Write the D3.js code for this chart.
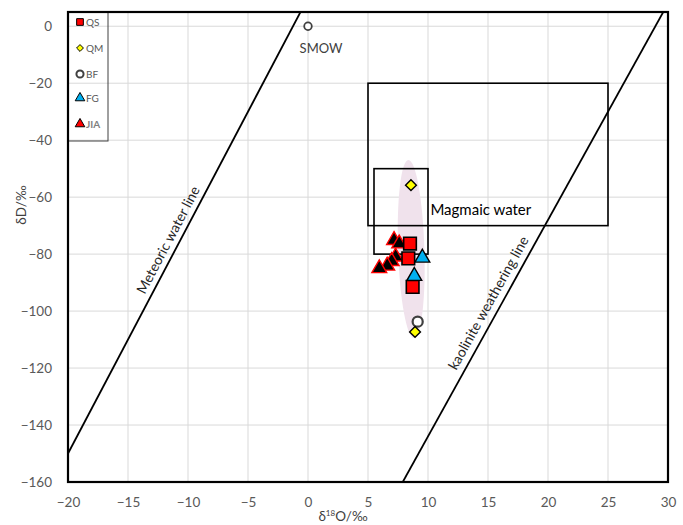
<!DOCTYPE html>
<html>
<head>
<meta charset="utf-8">
<script src="https://cdn.jsdelivr.net/npm/d3@7"></script>
<style>
  body { margin: 0; background: #fff; }
  svg { display: block; font-family: Lato, "Open Sans", sans-serif; }
</style>
</head>
<body>
<svg id="chart" width="683" height="525"></svg>
<script>
// Tick values
const xTicks = [-20, -15, -10, -5, 0, 5, 10, 15, 20, 25, 30];
const yTicks = [0, -20, -40, -60, -80, -100, -120, -140, -160];

// Sample groups: [δ18O, δD]
const qsPoints  = [[8.5, -76.3], [8.36, -81.5], [8.72, -91.5]];
const qmPoints  = [[8.58, -55.8], [8.92, -107.3]];
const bfPoints  = [[9.14, -103.7]];
const fgPoints  = [[9.53, -81.3], [8.86, -87.7]];
const jiaPoints = [[7.17, -75.1], [7.6, -76.3], [7.3, -80.9], [6.97, -82.5], [6.6, -84.1], [5.94, -85.0]];
const smowPoint = [[0, 0]];

// Reference fields: [x0, x1, y0, y1]
const magmaticBoxes = [[5, 25, -20, -70], [5.5, 10, -50, -80]];
// Reference lines: δD = slope * δ18O + intercept
const meteoricLine  = { slope: 8, intercept: 10 };
const kaoliniteLine = { slope: 7.6, intercept: -220 };

const svg = d3.select("#chart");
const pL = 68, pR = 668, pT = 12, pB = 482;
const x = d3.scaleLinear().domain([-20, 30]).range([pL, pR]);
const y = d3.scaleLinear().domain([-160, 5]).range([pB, pT]);

const defs = svg.append("defs");
defs.append("clipPath").attr("id", "plotClip")
  .append("rect").attr("x", pL).attr("y", pT).attr("width", pR - pL).attr("height", pB - pT);

// Gridlines
const grid = svg.append("g");
grid.selectAll(".vg").data(xTicks.slice(1, -1)).join("line")
  .attr("x1", d => x(d)).attr("x2", d => x(d)).attr("y1", pT).attr("y2", pB)
  .attr("stroke", "#d9d9d9").attr("stroke-width", 1);
grid.selectAll(".hg").data(yTicks.slice(0, -1)).join("line")
  .attr("x1", pL).attr("x2", pR).attr("y1", d => y(d)).attr("y2", d => y(d))
  .attr("stroke", "#d9d9d9").attr("stroke-width", 1);

// Axes (labels only)
const xAxis = svg.append("g").attr("transform", `translate(0,${pB})`)
  .call(d3.axisBottom(x).tickValues(xTicks).tickSize(0).tickPadding(15));
const yAxis = svg.append("g").attr("transform", `translate(${pL},0)`)
  .call(d3.axisLeft(y).tickValues(yTicks).tickSize(0).tickPadding(16));
[xAxis, yAxis].forEach(a => {
  a.select(".domain").remove();
  a.selectAll("text").attr("fill", "#595959").style("font-size", "13.5px").style("font-family", "Lato, 'Open Sans', sans-serif");
});

const plot = svg.append("g").attr("clip-path", "url(#plotClip)");

// Shaded field around the samples
const ec = [8.6, -78.2];
plot.append("ellipse")
  .attr("cx", x(ec[0])).attr("cy", y(ec[1]))
  .attr("rx", x(ec[0] + 1.1) - x(ec[0]))
  .attr("ry", y(ec[1] - 31.3) - y(ec[1]))
  .attr("transform", `rotate(-1.8,${x(ec[0])},${y(ec[1])})`)
  .attr("fill", "#f0e2ec");

// Magmatic water boxes
plot.selectAll(".mbox").data(magmaticBoxes).join("rect")
  .attr("x", d => x(d[0])).attr("y", d => y(d[2]))
  .attr("width", d => x(d[1]) - x(d[0])).attr("height", d => y(d[3]) - y(d[2]))
  .attr("fill", "none").attr("stroke", "#000").attr("stroke-width", 1.6);

// Water lines
[meteoricLine, kaoliniteLine].forEach(l => {
  plot.append("line")
    .attr("x1", x(-20)).attr("y1", y(l.slope * -20 + l.intercept))
    .attr("x2", x(30)).attr("y2", y(l.slope * 30 + l.intercept))
    .attr("stroke", "#000").attr("stroke-width", 1.8);
});

function lineAngle(l) {
  const dx = x(1) - x(0), dy = y(l.slope) - y(0);
  return Math.atan2(dy, dx) * 180 / Math.PI;
}
function lineLabel(text, l, xv, offset) {
  const px = x(xv), py = y(l.slope * xv + l.intercept);
  const ang = lineAngle(l);
  svg.append("text")
    .attr("transform", `translate(${px},${py}) rotate(${ang}) translate(0,${-offset})`)
    .attr("text-anchor", "middle").attr("fill", "#262626")
    .style("font-size", "14px").text(text);
}
lineLabel("Meteoric water line", meteoricLine, -10.85, 6);
lineLabel("kaolinite weathering line", kaoliniteLine, 15.9, 7);

svg.append("text").attr("x", x(10.2)).attr("y", y(-66.3))
  .attr("fill", "#000").style("font-size", "15px").text("Magmaic water");

svg.append("text").attr("x", x(-0.7)).attr("y", y(-9.4))
  .attr("fill", "#404040").style("font-size", "13px").text("SMOW");

// Marker shapes
const sym = {
  square: d3.symbol().type(d3.symbolSquare).size(160),
  diamond: d3.symbol().type(d3.symbolDiamond2).size(75),
  circle: d3.symbol().type(d3.symbolCircle).size(80),
  triangle: d3.symbol().type(d3.symbolTriangle).size(95),
  smallSquare: d3.symbol().type(d3.symbolSquare).size(45),
  smallDiamond: d3.symbol().type(d3.symbolDiamond2).size(30),
  smallCircle: d3.symbol().type(d3.symbolCircle).size(40),
  smallTriangle: d3.symbol().type(d3.symbolTriangle).size(40)
};

const series = [
  { name: "QS",  data: qsPoints,  shape: "square",   fill: "#ff0000", stroke: "#000",    sw: 1.6, legend: "smallSquare" },
  { name: "QM",  data: qmPoints,  shape: "diamond",  fill: "#ffff00", stroke: "#000",    sw: 1.4, legend: "smallDiamond" },
  { name: "BF",  data: bfPoints,  shape: "circle",   fill: "#ffffff", stroke: "#404040", sw: 2.2, legend: "smallCircle" },
  { name: "FG",  data: fgPoints,  shape: "triangle", fill: "#00b0f0", stroke: "#000",    sw: 1.4, legend: "smallTriangle" },
  { name: "JIA", data: jiaPoints, shape: "triangle", fill: "#000000", stroke: "#ff0000", sw: 1.4, legend: "smallTriangle" }
];

// SMOW point
plot.selectAll(".smow").data(smowPoint).join("path")
  .attr("d", d3.symbol().type(d3.symbolCircle).size(45)())
  .attr("transform", d => `translate(${x(d[0])},${y(d[1])})`)
  .attr("fill", "#fff").attr("stroke", "#404040").attr("stroke-width", 1.8);

const drawOrder = ["BF", "QM", "JIA", "QS", "FG"];
drawOrder.forEach(n => {
  const s = series.find(d => d.name === n);
  plot.selectAll(null).data(s.data).join("path")
    .attr("d", sym[s.shape]())
    .attr("transform", d => `translate(${x(d[0])},${y(d[1])})`)
    .attr("fill", s.fill).attr("stroke", s.stroke).attr("stroke-width", s.sw);
});

// Legend
const lg = svg.append("g");
lg.append("rect").attr("x", pL).attr("y", pT).attr("width", 40).attr("height", 129)
  .attr("fill", "none").attr("stroke", "#404040").attr("stroke-width", 1);
const legendY = [22, 48, 74, 98, 124];
series.forEach((s, i) => {
  lg.append("path").attr("d", sym[s.legend]())
    .attr("transform", `translate(80,${legendY[i]})`)
    .attr("fill", s.name === "JIA" ? "#ff0000" : s.fill)
    .attr("stroke", s.name === "JIA" ? "#000" : s.stroke)
    .attr("stroke-width", s.name === "BF" ? 2 : 1);
  lg.append("text").attr("x", 86).attr("y", legendY[i] + 3.5)
    .attr("fill", s.name === "JIA" ? "#7f7f7f" : "#595959")
    .style("font-size", "10px").style("font-weight", s.name === "JIA" ? "bold" : "normal")
    .text(s.name);
});

// Plot frame
svg.append("rect").attr("x", pL).attr("y", pT).attr("width", pR - pL).attr("height", pB - pT)
  .attr("fill", "none").attr("stroke", "#000").attr("stroke-width", 2.2);

// Axis titles
svg.append("text").attr("transform", `translate(26,205) rotate(-90)`)
  .attr("text-anchor", "middle").attr("fill", "#404040").style("font-size", "13.5px").text("δD/‰");
const xt = svg.append("text").attr("x", 343).attr("y", 521)
  .attr("text-anchor", "middle").attr("fill", "#404040").style("font-size", "13.5px");
xt.append("tspan").text("δ");
xt.append("tspan").attr("dy", -5).style("font-size", "8px").text("18");
xt.append("tspan").attr("dy", 5).text("O/‰");
</script>
</body>
</html>
